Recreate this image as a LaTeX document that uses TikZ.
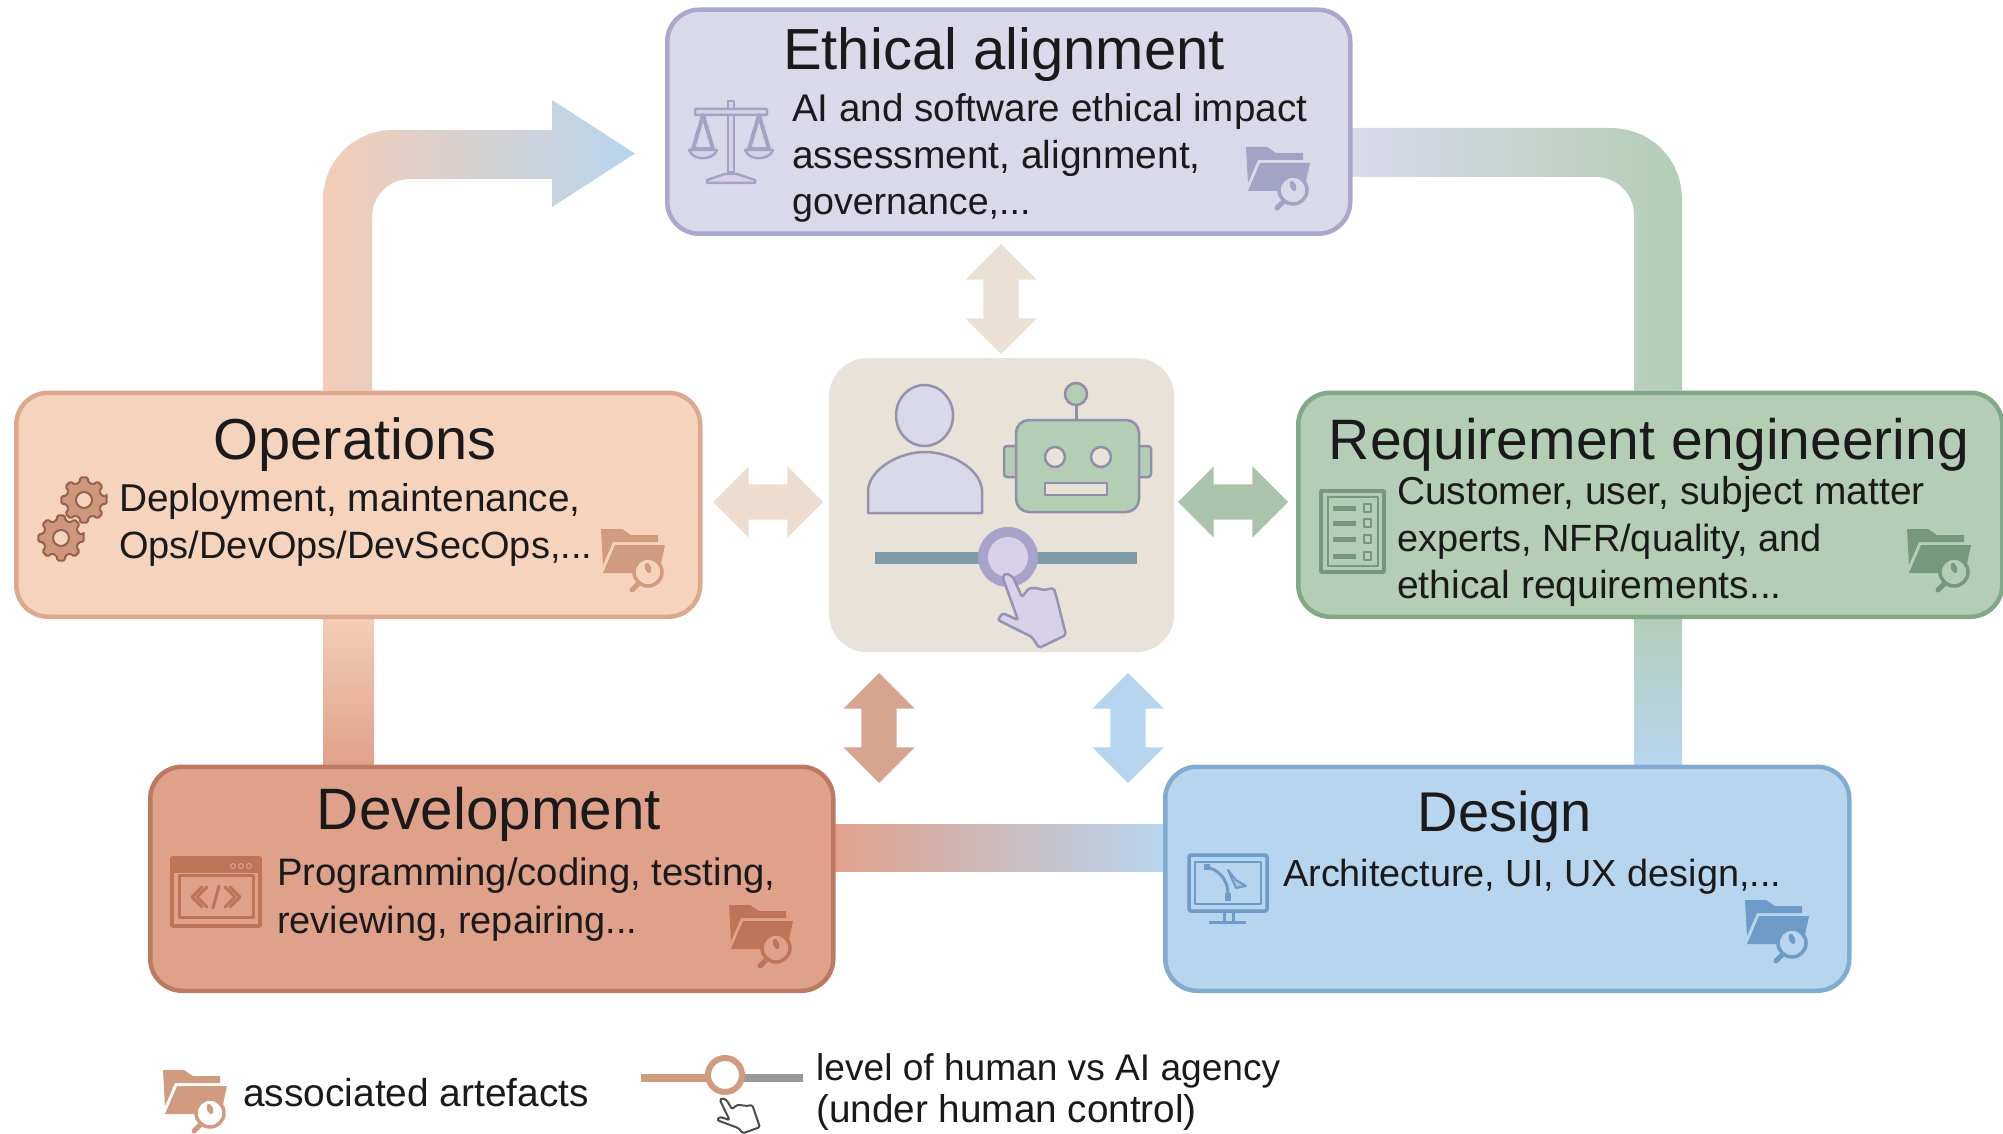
\documentclass[tikz,border=0pt]{standalone}
\usepackage{fontspec}
\setmainfont{Liberation Sans}
\usetikzlibrary{shapes.arrows,backgrounds,calc}
\definecolor{txt}{HTML}{1A1A1A}
\definecolor{ethF}{HTML}{D9D9EA}\definecolor{ethL}{HTML}{A9AACB}\definecolor{ethI}{HTML}{A3A3C6}
\definecolor{opsF}{HTML}{F6D3BC}\definecolor{opsL}{HTML}{DCA98F}\definecolor{opsI}{HTML}{D19B80}
\definecolor{reqF}{HTML}{B3CEB5}\definecolor{reqL}{HTML}{83A887}\definecolor{reqI}{HTML}{76987B}
\definecolor{devF}{HTML}{E0A18B}\definecolor{devL}{HTML}{BC7A62}\definecolor{devI}{HTML}{BE7557}
\definecolor{desF}{HTML}{B7D5EE}\definecolor{desL}{HTML}{82ABD0}\definecolor{desI}{HTML}{6E9CC8}
\definecolor{midF}{HTML}{E9E2D9}
\definecolor{botL}{HTML}{8F8FA8}\definecolor{lav}{HTML}{D9D0E9}
\definecolor{track}{HTML}{7F9AA6}\definecolor{knob}{HTML}{A9A3CB}
\definecolor{bandA}{HTML}{E9D8D6}\definecolor{bandB}{HTML}{E0CAC6}\definecolor{barO}{HTML}{F3CDB6}
\tikzset{
 phase/.style={draw,line width=4.5pt,rounded corners=32pt,anchor=north west,inner sep=0pt},
 ttl/.style={anchor=base,inner sep=0pt,text=txt,font=\fontsize{#1}{60}\selectfont},
 ttl/.default=58,
 bodyln/.style={anchor=base west,inner sep=0pt,text=txt,font=\fontsize{#1}{44}\selectfont},
 bodyln/.default=38.6,
 legln/.style={anchor=base west,inner sep=0pt,text=txt,font=\fontsize{#1}{44}\selectfont},
 dbl/.style={double arrow,double arrow head extend=18pt,minimum width=71pt,minimum height=110pt,inner xsep=0pt,inner ysep=17.5pt,fill=#1},
}
\newcommand{\foldericon}[4]{%
 \begin{scope}[shift={(#1,#2)}]
  \fill[#3] (0,2)--(21,2)--(30,8)--(57,8)--(57,15)--(12,15)--(2,38)--cycle;
  \fill[#3] (14,18)--(64,18)--(58,46)--(2,46)--cycle;
  \draw[#3,line width=5pt,line cap=round] (37,57)--(31,63);
  \draw[#3,fill=#4,line width=3.5pt] (47,45) ellipse (14 and 14);
  \fill[#3,rotate around={20:(47,41)}] (47,41) ellipse (3 and 5.5);
 \end{scope}}
\newcommand{\gearicon}[2]{%
 \begin{scope}[shift={(#1,#2)}]
  \draw[fill=opsI!85!devL,draw=devL!80!black,line width=2pt,rounded corners=1.5pt] (-9:23)
   \foreach \a in {0,45,...,315}{ -- (\a-9:23) -- (\a+9:23) -- (\a+14:18) -- (\a+31:18)} -- cycle;
  \draw[fill=opsF,draw=devL!80!black,line width=2pt] (0,0) circle (8);
 \end{scope}}
\newcommand{\handshape}{(1006,573) -- (1013,577) -- (1022,597) -- (1029,588) -- (1036,588) -- (1044,590) -- (1054,588) -- (1058,603) -- (1066,635) -- (1039,648) -- (1032,637) -- (998,620) -- (1002.5,613) -- (1018,620) -- (1002.5,577) -- cycle}
\begin{document}
\begin{tikzpicture}[x=1pt,y=-1pt,line join=round]
\useasboundingbox (0,0) rectangle (2003,1134);

% phase boxes
\node[phase,fill=ethF,draw=ethL,minimum width=683pt,minimum height=224pt] (eth) at (665,7.5) {};
\node[phase,fill=opsF,draw=opsL,minimum width=684pt,minimum height=224pt] (ops) at (14,390.5) {};
\node[phase,fill=reqF,draw=reqL,minimum width=704pt,minimum height=224pt] (req) at (1296,390.5) {};
\node[phase,fill=devF,draw=devL,minimum width=683pt,minimum height=224pt] (dev) at (148,764.5) {};
\node[phase,fill=desF,draw=desL,minimum width=684pt,minimum height=224pt] (des) at (1163,764.5) {};
\node[anchor=north west,fill=midF,rounded corners=38pt,minimum width=345pt,minimum height=294pt,inner sep=0pt] (mid) at (829,358) {};

% flow connectors
\coordinate (ein) at (635,153.5);
\begin{scope}[on background layer]
\fill[white] (0,0) rectangle (2003,1134);
\shade[left color=barO,middle color=bandA,right color=desF] (323,0 |- ops.north) -- (323,200) .. controls (323,161) and (354,130) .. (393,130) -- (552,130) -- (552,100) -- (ein) -- (552,207) -- (552,179) -- (410,179) .. controls (389,179) and (372,196) .. (372,217) -- (372,0 |- ops.north) -- cycle;
\shade[left color=ethF,right color=reqF] (eth.east |- 0,128) -- (1610,128) .. controls (1651,128) and (1682,159) .. (1682,200) -- (1682,0 |- req.north) -- (1634,0 |- req.north) -- (1634,215) .. controls (1634,194) and (1617,177) .. (1596,177) -- (eth.east |- 0,177) -- cycle;
\shade[top color=barO,bottom color=devF] (323,0 |- ops.south) rectangle (374,0 |- dev.north);
\shade[top color=reqF!90!desF,bottom color=desF] (1634,0 |- req.south) rectangle (1682,0 |- des.north);
\shade[left color=devF,middle color=bandB,right color=desF] (dev.east |- 0,824) rectangle (des.west |- 0,871);
\end{scope}

% double arrows
\node[dbl=midF!90!opsF,rotate=90] (a1) at (1001,299) {};
\node[dbl=opsF!35!midF] (a2) at (768,502) {};
\node[dbl=reqF!95!black] (a3) at (1233,502) {};
\node[dbl=devF!82!midF!95!black,rotate=90] (a4) at (879,728) {};
\node[dbl=desF,rotate=90] (a5) at (1128,728) {};

% titles and text
\node[ttl] (t1) at (1004,70) {Ethical alignment};
\node[bodyln] (t1a) at (792,121.5) {AI and software ethical impact};
\node[bodyln=38.9] (t1b) at (792,168.5) {assessment, alignment,};
\node[bodyln=37.6] (t1c) at (792,215) {governance,...};
\node[ttl=57.8] (t2) at (355,459.5) {Operations};
\node[bodyln=38.8] (t2a) at (119,511.5) {Deployment, maintenance,};
\node[bodyln=38] (t2b) at (119,558.5) {Ops/DevOps/DevSecOps,...};
\node[ttl=57] (t3) at (1649,459) {Requirement engineering};
\node[bodyln=38.9] (t3a) at (1397,504.5) {Customer, user, subject matter};
\node[bodyln=37.9] (t3b) at (1397,551.5) {experts, NFR/quality, and};
\node[bodyln=39.1] (t3c) at (1397,598.5) {ethical requirements...};
\node[ttl=58.4] (t4) at (489,829.5) {Development};
\node[bodyln=38.3] (t4a) at (277,885.5) {Programming/coding, testing,};
\node[bodyln=37.9] (t4b) at (277,933) {reviewing, repairing...};
\node[ttl=56] (t5) at (1505,831) {Design};
\node[bodyln=37.8] (t5a) at (1283,886.5) {Architecture, UI, UX design,...};
\node[legln=38.9] (l1) at (243,1106.5) {associated artefacts};
\node[legln=37.1] (l2) at (816,1080) {level of human vs AI agency};
\node[legln=38.7] (l3) at (816,1122) {(under human control)};

% folders
\foldericon{1246}{145}{ethI}{ethF}
\foldericon{601}{527}{opsI}{opsF}
\foldericon{1907}{527}{reqI}{reqF}
\foldericon{729}{903}{devI}{devF}
\foldericon{1745}{898}{desI}{desF}
\foldericon{163}{1068}{opsI}{white}

% scales
\begin{scope}[draw=ethI,fill=lav,line width=2.5pt]
 \draw[fill=lav] (728,101) rectangle (734,172);
 \draw[fill=lav,rounded corners=1pt] (695,109) rectangle (767,115);
 \draw[fill=lav] (725,174) -- (737,174) -- (755,180) -- (755,183) -- (707,183) -- (707,180) -- cycle;
 \draw[line width=4pt] (703,115) -- (693,149) -- (713,149) -- cycle;
 \draw[line width=4pt] (759,115) -- (749,149) -- (769,149) -- cycle;
 \draw[fill=lav] (689,150) .. controls (693,161) and (713,161) .. (717,150) -- cycle;
 \draw[fill=lav] (745,150) .. controls (749,161) and (769,161) .. (773,150) -- cycle;
\end{scope}

% gears
\gearicon{84}{500}
\gearicon{61}{538}

% requirement list
\draw[reqI,line width=3.5pt] (1321,491) rectangle (1384,572);
\draw[reqI,line width=2.5pt] (1328,497) rectangle (1378,566);
\foreach \yy in {508,523,539,556}{
 \draw[reqI,line width=5pt] (1333,\yy) -- (1356,\yy);
 \draw[reqI,line width=2pt] (1364,\yy-4) rectangle (1371,\yy+4);
}

% code window
\draw[devI,line width=3.5pt] (172,858) rectangle (260,926);
\fill[devI] (172,858) rectangle (260,873);
\draw[devI,line width=3pt] (179,875) rectangle (253,917);
\foreach \xx in {233,241,249}{\draw[devF,line width=1pt] (\xx,866) circle (2.5);}
\draw[devI,line width=3pt,line cap=round] (202,887) -- (192,897) -- (202,907);
\draw[devI,line width=3pt,line cap=round] (207,887) -- (197,897) -- (207,907);
\draw[devI,line width=3pt,line cap=round] (219,886) -- (213,908);
\draw[devI,line width=3pt,line cap=round] (225,887) -- (235,897) -- (225,907);
\draw[devI,line width=3pt,line cap=round] (230,887) -- (240,897) -- (230,907);

% monitor
\draw[desI,line width=3.5pt,rounded corners=2pt] (1189,855) rectangle (1267,911);
\draw[desI,line width=2pt] (1195,862) rectangle (1261,904);
\draw[desI,line width=3pt] (1224,911) -- (1224,922) (1233,911) -- (1233,922);
\draw[desI,line width=3pt] (1209,922) -- (1246,922);
\draw[desI,line width=3pt] (1207,867) .. controls (1218,870) and (1228,878) .. (1228,895);
\draw[desI,line width=2pt,fill=desF!70!desI] (1228,870) -- (1236,880) -- (1246,886) -- (1236,888) -- cycle;
\fill[desI] (1225,893) rectangle (1231,901);
\fill[desI] (1204,864) rectangle (1210,870);

% person
\draw[botL!80!ethI,fill=ethF,line width=2.5pt] (924.5,415.5) ellipse (28.5 and 30.5);
\draw[botL!80!ethI,fill=ethF,line width=2.5pt] (868,513) -- (868,490) .. controls (870,468) and (900,452) .. (925,452) .. controls (950,452) and (980,468) .. (982,490) -- (982,513) -- cycle;

% robot
\draw[botL,line width=3pt] (1076,398) -- (1076,420);
\draw[botL,fill=reqF,line width=2.5pt] (1076,394) circle (11);
\draw[botL,fill=reqF,line width=2.5pt,rounded corners=3pt] (1004,446) rectangle (1022,477);
\draw[botL,fill=reqF,line width=2.5pt,rounded corners=3pt] (1133,446) rectangle (1151,477);
\draw[botL,fill=reqF,line width=2.5pt,rounded corners=13pt] (1016,420) rectangle (1139,512);
\draw[botL,fill=midF,line width=2.5pt] (1055,457) circle (10);
\draw[botL,fill=midF,line width=2.5pt] (1101,457) circle (10);
\draw[botL,fill=midF,line width=2.5pt] (1045,483) rectangle (1107,495);

% agency slider
\fill[track] (875,552) rectangle (1137,564);
\fill[knob] (1008,557) circle (30);
\fill[lav] (1008,557) circle (20);
\draw[botL!70!ethI,fill=lav,line width=2.5pt,rounded corners=2pt] \handshape;

% legend slider
\draw[opsI,line width=8pt] (641,1078) -- (725,1078);
\draw[black!40,line width=8pt] (725,1078) -- (803,1078);
\draw[opsI,fill=white,line width=6pt] (725,1075) circle (17);
\begin{scope}[shift={(717,1098)},xscale=.63,yscale=.47,shift={(-998,-573)}]
 \draw[black!70,fill=white,line width=2pt,rounded corners=1.5pt] \handshape;
\end{scope}
\end{tikzpicture}
\end{document}
